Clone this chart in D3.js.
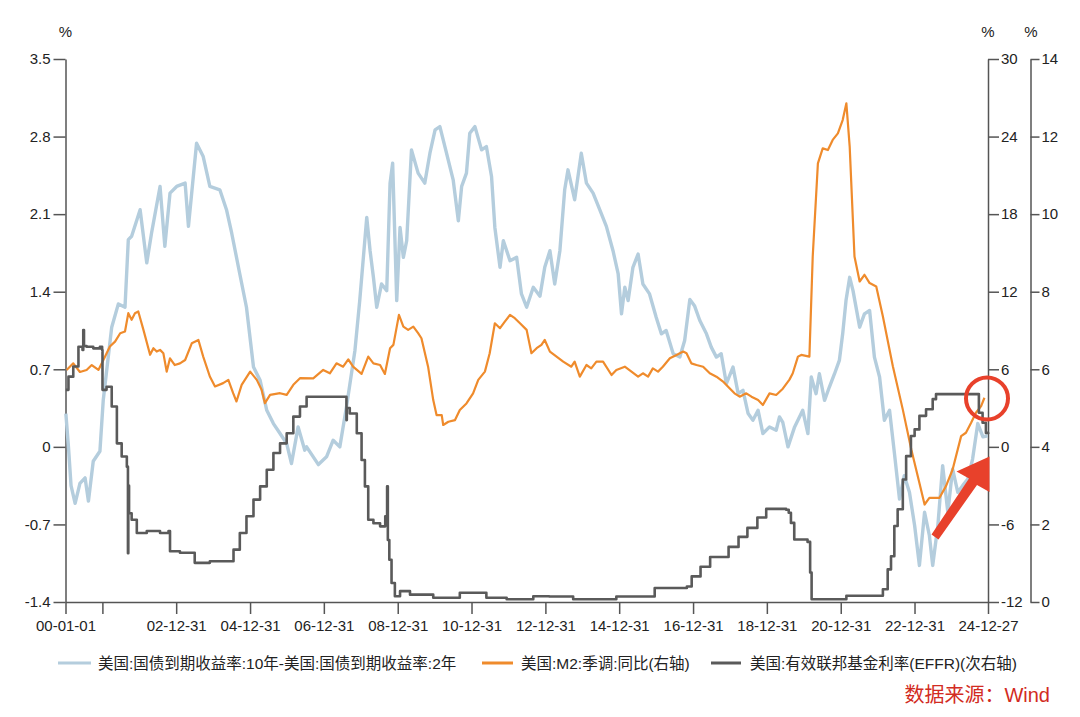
<!DOCTYPE html>
<html><head><meta charset="utf-8">
<script src="https://cdn.jsdelivr.net/npm/d3@7"></script>
<style>
body{margin:0;background:#fff;}
text{font-family:"Liberation Sans","Noto Sans CJK SC",sans-serif;}
</style></head><body>
<svg id="chart" width="1080" height="717"></svg>
<script>
// ---------- DATA ----------
// US 10Y-2Y Treasury spread (left axis, %)
const spreadDates = [2000.01,2000.08,2000.15,2000.26,2000.39,2000.53,2000.62,2000.75,2000.93,2001.02,2001.25,2001.43,2001.61,2001.70,2001.79,2002.02,2002.20,2002.33,2002.56,2002.69,2002.83,2003.01,2003.24,2003.33,2003.55,2003.73,2003.91,2004.18,2004.36,2004.50,2004.72,2004.90,2005.09,2005.27,2005.45,2005.63,2005.81,2005.99,2006.12,2006.30,2006.48,2006.53,2006.85,2007.07,2007.25,2007.43,2007.61,2007.84,2007.97,2008.16,2008.25,2008.34,2008.43,2008.56,2008.70,2008.79,2008.86,2008.97,2009.06,2009.15,2009.24,2009.37,2009.55,2009.73,2009.87,2010.01,2010.14,2010.32,2010.50,2010.64,2010.73,2010.86,2010.95,2011.09,2011.27,2011.40,2011.54,2011.63,2011.77,2011.86,2012.04,2012.22,2012.35,2012.49,2012.67,2012.85,2012.98,2013.12,2013.25,2013.39,2013.52,2013.61,2013.79,2013.97,2014.11,2014.29,2014.47,2014.65,2014.83,2014.97,2015.06,2015.15,2015.24,2015.37,2015.51,2015.64,2015.82,2016.00,2016.14,2016.27,2016.46,2016.64,2016.77,2016.91,2017.04,2017.18,2017.36,2017.49,2017.63,2017.76,2017.90,2018.08,2018.22,2018.35,2018.49,2018.62,2018.76,2018.89,2019.07,2019.25,2019.34,2019.43,2019.57,2019.75,2019.97,2020.11,2020.20,2020.33,2020.42,2020.56,2020.69,2020.83,2020.96,2021.05,2021.14,2021.24,2021.33,2021.51,2021.64,2021.78,2021.91,2022.05,2022.18,2022.32,2022.45,2022.59,2022.72,2022.86,2023.00,2023.13,2023.27,2023.40,2023.49,2023.63,2023.76,2023.90,2024.03,2024.17,2024.30,2024.44,2024.57,2024.71,2024.85,2024.98];
const spreadValues = [0.30,0.00,-0.35,-0.51,-0.33,-0.28,-0.49,-0.13,-0.04,0.42,1.08,1.29,1.26,1.87,1.90,2.14,1.66,1.93,2.35,1.81,2.29,2.35,2.38,1.99,2.74,2.62,2.35,2.32,2.14,1.93,1.56,1.26,0.72,0.60,0.33,0.21,0.12,0.03,-0.15,0.18,-0.03,0.00,-0.16,-0.09,0.06,0.00,0.36,0.87,1.32,2.07,1.77,1.53,1.26,1.47,1.41,2.38,2.56,1.32,1.98,1.71,1.86,2.68,2.47,2.38,2.65,2.86,2.89,2.65,2.41,2.04,2.35,2.47,2.83,2.89,2.68,2.71,2.44,1.98,1.62,1.86,1.68,1.71,1.38,1.26,1.44,1.36,1.62,1.77,1.47,1.77,2.32,2.50,2.23,2.65,2.38,2.29,2.14,1.99,1.77,1.56,1.20,1.44,1.32,1.62,1.74,1.47,1.38,1.17,1.02,1.05,0.84,0.81,0.96,1.33,1.27,1.14,1.02,0.90,0.81,0.84,0.57,0.72,0.48,0.51,0.30,0.24,0.33,0.12,0.18,0.15,0.27,0.22,0.00,0.18,0.33,0.12,0.63,0.48,0.66,0.42,0.54,0.66,0.78,1.02,1.32,1.53,1.41,1.08,1.20,1.23,0.81,0.63,0.24,0.33,-0.05,-0.47,-0.26,-0.41,-0.71,-1.07,-0.59,-0.80,-1.07,-0.71,-0.17,-0.59,-0.20,-0.41,-0.35,-0.29,-0.11,0.21,0.09,0.10];

// US M2 seasonally adjusted YoY (right axis, %)
const m2Dates = [2000.03,2000.21,2000.39,2000.57,2000.71,2000.89,2001.07,2001.20,2001.34,2001.48,2001.61,2001.70,2001.79,2001.88,2001.97,2002.11,2002.29,2002.38,2002.47,2002.56,2002.65,2002.74,2002.83,2002.96,2003.10,2003.24,2003.42,2003.60,2003.73,2003.91,2004.05,2004.27,2004.41,2004.54,2004.63,2004.77,2005.00,2005.18,2005.31,2005.40,2005.54,2005.81,2005.99,2006.17,2006.35,2006.71,2006.98,2007.16,2007.34,2007.52,2007.66,2007.79,2008.02,2008.20,2008.34,2008.52,2008.65,2008.79,2008.88,2009.03,2009.15,2009.28,2009.42,2009.55,2009.64,2009.82,2009.96,2010.05,2010.19,2010.23,2010.37,2010.55,2010.68,2010.86,2011.04,2011.18,2011.36,2011.49,2011.63,2011.77,2011.90,2012.04,2012.17,2012.31,2012.49,2012.62,2012.76,2012.89,2012.98,2013.12,2013.30,2013.48,2013.70,2013.79,2013.93,2014.11,2014.24,2014.38,2014.56,2014.79,2014.92,2015.15,2015.33,2015.51,2015.64,2015.78,2015.91,2016.05,2016.18,2016.37,2016.55,2016.73,2016.82,2016.95,2017.09,2017.27,2017.45,2017.63,2017.81,2017.94,2018.12,2018.26,2018.44,2018.58,2018.76,2018.89,2019.07,2019.25,2019.43,2019.61,2019.70,2019.84,2019.93,2020.15,2020.24,2020.38,2020.51,2020.65,2020.78,2020.92,2021.05,2021.15,2021.24,2021.37,2021.51,2021.64,2021.78,2021.96,2022.14,2022.41,2022.68,2022.91,2023.13,2023.27,2023.40,2023.67,2023.85,2024.03,2024.26,2024.39,2024.53,2024.66,2024.80,2024.89];
const m2Values = [5.95,6.46,5.79,5.95,6.33,5.95,6.98,7.76,8.14,8.79,8.92,10.34,9.83,10.34,10.47,9.05,7.12,7.63,7.37,7.50,7.24,5.82,6.85,6.33,6.46,6.72,8.01,8.27,6.98,5.44,4.67,4.93,5.18,4.15,3.51,4.80,5.82,5.18,4.41,3.38,4.02,4.15,4.02,4.80,5.31,5.30,5.95,5.69,6.46,6.20,6.77,6.20,5.64,6.98,6.46,6.33,5.64,7.63,7.89,10.21,9.30,9.05,9.30,8.79,8.40,6.20,3.62,2.46,2.46,1.69,1.94,2.07,2.85,3.36,4.14,5.18,5.82,7.24,9.56,9.18,9.69,10.21,9.95,9.56,9.05,7.24,7.63,7.89,8.27,7.37,6.98,6.59,6.20,6.59,5.43,6.33,6.07,6.59,6.59,5.56,5.95,6.20,5.82,5.43,5.69,5.43,6.07,5.82,6.20,6.85,7.11,7.37,7.24,6.46,6.33,6.20,5.69,5.43,5.05,4.66,4.14,3.88,4.14,3.88,3.62,3.24,4.14,4.01,4.50,5.20,5.69,6.98,7.11,6.98,14.72,21.93,23.09,22.96,23.74,24.25,25.28,26.57,23.22,14.72,12.79,13.31,12.67,12.41,10.09,6.23,2.88,-0.21,-2.79,-4.46,-3.95,-3.95,-3.04,-1.75,0.83,1.09,1.86,2.64,3.15,3.80];

// US effective federal funds rate (secondary right axis, %)
const effrDates = [2000.01,2000.08,2000.21,2000.35,2000.46,2000.48,2000.50,2000.57,2000.75,2000.93,2000.99,2001.00,2001.11,2001.25,2001.39,2001.52,2001.66,2001.69,2001.70,2001.72,2001.79,2001.93,2002.20,2002.56,2002.79,2002.83,2003.10,2003.46,2003.50,2003.91,2004.41,2004.55,2004.72,2004.90,2005.09,2005.27,2005.45,2005.63,2005.81,2005.99,2006.17,2006.35,2006.53,2007.60,2007.61,2007.62,2007.70,2007.89,2008.02,2008.11,2008.20,2008.34,2008.52,2008.66,2008.70,2008.71,2008.73,2008.77,2008.83,2008.92,2009.06,2009.33,2009.96,2010.68,2011.40,2011.95,2012.67,2013.10,2013.75,2014.11,2014.92,2015.73,2015.96,2016.83,2016.96,2017.20,2017.46,2017.96,2018.23,2018.47,2018.74,2018.98,2019.52,2019.59,2019.65,2019.74,2020.10,2020.17,2020.21,2021.15,2022.05,2022.14,2022.27,2022.36,2022.45,2022.54,2022.68,2022.77,2022.90,2023.00,2023.13,2023.31,2023.49,2023.58,2024.66,2024.74,2024.84,2024.93,2024.99];
const effrValues = [5.47,5.81,6.07,6.58,6.50,7.01,6.60,6.58,6.54,6.58,6.50,5.47,5.55,5.04,4.09,3.75,3.49,1.26,3.00,2.29,2.12,1.78,1.83,1.78,1.83,1.31,1.27,1.27,1.01,1.05,1.05,1.35,1.78,2.21,2.64,2.98,3.41,3.84,4.09,4.35,4.78,5.04,5.29,5.29,4.69,5.00,4.86,4.35,3.66,2.98,2.12,2.03,1.95,2.21,2.00,2.98,1.60,1.09,0.49,0.15,0.28,0.19,0.11,0.24,0.11,0.07,0.15,0.14,0.07,0.07,0.14,0.14,0.36,0.40,0.66,0.91,1.16,1.42,1.68,1.91,2.18,2.40,2.38,2.30,2.04,1.61,1.55,0.76,0.07,0.16,0.16,0.33,0.84,1.18,1.96,2.39,3.16,3.76,4.28,4.45,4.80,4.97,5.23,5.36,5.36,4.88,4.62,4.36,4.33];

// Axis ticks
const xTickDates = ["2000-01-01","2000-12-31","2002-12-31","2004-12-31","2006-12-31","2008-12-31","2010-12-31","2012-12-31","2014-12-31","2016-12-31","2018-12-31","2020-12-31","2022-12-31","2024-12-27"];
const xTickLabels = ["00-01-01","","02-12-31","04-12-31","06-12-31","08-12-31","10-12-31","12-12-31","14-12-31","16-12-31","18-12-31","20-12-31","22-12-31","24-12-27"];
const leftTicks = [-1.4,-0.7,0,0.7,1.4,2.1,2.8,3.5];
const rightTicks = [-12,-6,0,6,12,18,24,30];
const right2Ticks = [0,2,4,6,8,10,12,14];
const legendLabels = ["美国:国债到期收益率:10年-美国:国债到期收益率:2年","美国:M2:季调:同比(右轴)","美国:有效联邦基金利率(EFFR)(次右轴)"];
const sourceLabel = "数据来源：Wind";

// ---------- CHART ----------
const colors = {spread:"#b4cddd", m2:"#ef8b2c", effr:"#5a5a5a", axis:"#555", text:"#222", red:"#e8412b"};
const svg = d3.select("#chart");
const L = 65.5, R = 988, T = 59, B = 602;

function yearToDate(y){
  const yr = Math.floor(y);
  const s = Date.UTC(yr,0,1), e = Date.UTC(yr+1,0,1);
  return new Date(s + (y-yr)*(e-s));
}
const x = d3.scaleUtc().domain([new Date("2000-01-01"), new Date("2024-12-27")]).range([L, R]);
const yL = d3.scaleLinear().domain([-1.4, 3.5]).range([B, T]);
const yR = d3.scaleLinear().domain([-12, 30]).range([B, T]);
const yR2 = d3.scaleLinear().domain([0, 14]).range([B, T]);

function styleAxis(g){
  g.selectAll("path,line").attr("stroke", colors.axis).attr("stroke-width", 1.5);
  g.selectAll("text").attr("fill", colors.text).attr("font-size", 15)
   .attr("font-family", '"Liberation Sans","Noto Sans CJK SC",sans-serif');
}

svg.append("g").attr("transform",`translate(${L},0)`)
  .call(d3.axisLeft(yL).tickValues(leftTicks).tickSize(12).tickSizeOuter(0).tickPadding(3).tickFormat(d=>String(d)))
  .call(styleAxis);
svg.append("g").attr("transform",`translate(${R},0)`)
  .call(d3.axisRight(yR).tickValues(rightTicks).tickSize(11).tickSizeOuter(0).tickPadding(2).tickFormat(d=>String(d)))
  .call(styleAxis);
svg.append("g").attr("transform",`translate(1030.5,0)`)
  .call(d3.axisRight(yR2).tickValues(right2Ticks).tickSize(9).tickSizeOuter(0).tickPadding(2).tickFormat(d=>String(d)))
  .call(styleAxis);
svg.append("g").attr("transform",`translate(0,${B})`)
  .call(d3.axisBottom(x).tickValues(xTickDates.map(d=>new Date(d))).tickSize(12).tickSizeOuter(0).tickPadding(6).tickFormat((d,i)=>xTickLabels[i]))
  .call(styleAxis);

// unit labels
[[L,"%"],[R,"%"],[1031,"%"]].forEach(([px,t])=>{
  svg.append("text").attr("x",px).attr("y",37).attr("text-anchor","middle")
    .attr("font-size",15).attr("fill",colors.text).text(t);
});

// lines
const plot = svg.append("g");
const spreadLine = d3.line().x((d,i)=>x(yearToDate(spreadDates[i]))).y(d=>yL(d));
plot.append("path").datum(spreadValues).attr("d", spreadLine)
  .attr("fill","none").attr("stroke",colors.spread).attr("stroke-width",3.4).attr("stroke-linejoin","round");
const m2Line = d3.line().x((d,i)=>x(yearToDate(m2Dates[i]))).y(d=>yR(d));
plot.append("path").datum(m2Values).attr("d", m2Line)
  .attr("fill","none").attr("stroke",colors.m2).attr("stroke-width",2.2).attr("stroke-linejoin","round");
const effrLine = d3.line().x((d,i)=>x(yearToDate(effrDates[i]))).y(d=>yR2(d)).curve(d3.curveStepAfter);
plot.append("path").datum(effrValues).attr("d", effrLine)
  .attr("fill","none").attr("stroke",colors.effr).attr("stroke-width",2.6).attr("stroke-linejoin","round");

// annotations
svg.append("circle").attr("cx",987).attr("cy",398.5).attr("r",21)
  .attr("fill","none").attr("stroke",colors.red).attr("stroke-width",4);
svg.append("polygon")
  .attr("points","931.5,534.5 969,478.5 956.5,471.5 989.5,456.5 989.5,492 977,485 938.5,539.5")
  .attr("fill",colors.red);

// legend
const legendItems = [
  {x1:58,x2:91,tx:98,color:colors.spread,w:3.2},
  {x1:482,x2:513,tx:521,color:colors.m2,w:3},
  {x1:711,x2:741,tx:750,color:colors.effr,w:3}
];
legendItems.forEach((it,i)=>{
  svg.append("line").attr("x1",it.x1).attr("x2",it.x2).attr("y1",663).attr("y2",663)
    .attr("stroke",it.color).attr("stroke-width",it.w);
  svg.append("text").attr("x",it.tx).attr("y",668.5).attr("font-size",15.5)
    .attr("fill",colors.text).text(legendLabels[i]);
});
svg.append("text").attr("x",1050).attr("y",702).attr("text-anchor","end")
  .attr("font-size",20).attr("fill","#d22b22").text(sourceLabel);
</script>
</body></html>
